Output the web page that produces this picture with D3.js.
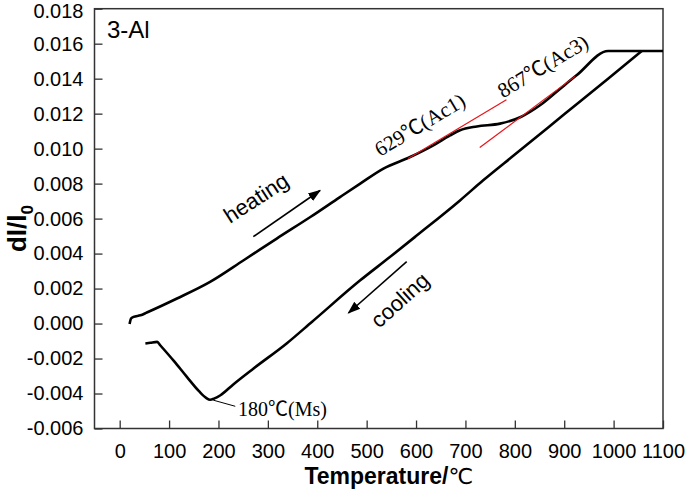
<!DOCTYPE html>
<html>
<head>
<meta charset="utf-8">
<script src="https://cdn.jsdelivr.net/npm/d3@7"></script>
<style>
  html, body { margin: 0; padding: 0; background: #fff; }
  svg { display: block; }
</style>
</head>
<body>
<svg id="chart" width="685" height="489"></svg>
<script>
// ---- data ----
const heatingT = [20, 23, 28, 42, 55, 116, 183, 251, 318, 386, 446, 487, 534, 588, 635, 669, 689, 723, 770, 812, 851, 892, 925, 989, 1100];
const heatingV = [-0.00002, 0.00029, 0.00038, 0.00047, 0.00063, 0.00143, 0.00238, 0.00362, 0.00486, 0.00609, 0.00723, 0.0080, 0.00886, 0.00952, 0.01019, 0.01076, 0.01105, 0.01127, 0.01143, 0.01181, 0.01248, 0.01343, 0.01419, 0.01558, 0.01558];

const coolingT = [52, 62, 76, 82, 110, 136, 160, 175, 183, 192, 204, 230, 271, 338, 389, 487, 547, 600, 689, 736, 800, 900, 990, 1057];
const coolingV = [-0.00114, -0.00110, -0.00105, -0.00124, -0.00215, -0.00305, -0.00385, -0.00425, -0.00436, -0.00428, -0.0041, -0.00348, -0.00257, -0.00114, 0.00009, 0.00247, 0.0038, 0.0050, 0.00704, 0.00819, 0.00966, 0.01196, 0.01403, 0.01558];

const ac1TangentT = [584, 783];
const ac1TangentV = [0.00943, 0.0128];
const ac3TangentT = [729, 922];
const ac3TangentV = [0.01006, 0.01413];

const xTicks = [0, 100, 200, 300, 400, 500, 600, 700, 800, 900, 1000, 1100];
const yTicks = [-0.006, -0.004, -0.002, 0.000, 0.002, 0.004, 0.006, 0.008, 0.010, 0.012, 0.014, 0.016, 0.018];

// ---- layout ----
const svg = d3.select("#chart");
const mLeft = 94.5, mRight = 663, mTop = 8.7, mBottom = 428.5;
const x = d3.scaleLinear().domain([-51, 1100]).range([mLeft, mRight]);
const y = d3.scaleLinear().domain([-0.006, 0.018]).range([mBottom, mTop]);

const sansFont = "Arial, 'Liberation Sans', sans-serif";
const serifFont = "'Times New Roman', 'Liberation Serif', serif";
const cjkFont = "'Noto Sans CJK SC', sans-serif";
const symFont = "'DejaVu Sans', sans-serif";

const f3 = d3.format(".3f");
const yFmt = d => f3(d).replace("\u2212", "-");

// axes
const xAxis = svg.append("g")
  .attr("transform", `translate(0,${mBottom})`)
  .call(d3.axisBottom(x).tickValues(xTicks).tickSizeInner(-8).tickSizeOuter(0).tickPadding(15).tickFormat(d3.format("d")));
const yAxis = svg.append("g")
  .attr("transform", `translate(${mLeft},0)`)
  .call(d3.axisLeft(y).tickValues(yTicks).tickSizeInner(-8).tickSizeOuter(0).tickPadding(11).tickFormat(yFmt));
[xAxis, yAxis].forEach(g => {
  g.select(".domain").remove();
  g.selectAll(".tick line").attr("stroke", "#333").attr("stroke-width", 1.3);
  g.selectAll(".tick text").attr("fill", "#000").style("font-family", sansFont).style("font-size", "20px");
});
yAxis.selectAll(".tick text").filter(d => d === 0.018).attr("dy", "0.42em");

// frame
svg.append("rect")
  .attr("x", mLeft).attr("y", mTop)
  .attr("width", mRight - mLeft).attr("height", mBottom - mTop)
  .attr("fill", "none").attr("stroke", "#333").attr("stroke-width", 1.5);

// curves
const line = d3.line().x(d => x(d[0])).y(d => y(d[1])).curve(d3.curveMonotoneX);
const heating = heatingT.map((t, i) => [t, heatingV[i]]);
const cooling = coolingT.map((t, i) => [t, coolingV[i]]);
svg.append("path").attr("d", line(heating)).attr("fill", "none").attr("stroke", "#000").attr("stroke-width", 2.6).attr("stroke-linejoin", "round");
svg.append("path").attr("d", line(cooling)).attr("fill", "none").attr("stroke", "#000").attr("stroke-width", 2.6).attr("stroke-linejoin", "round");

// tangent lines
const straight = d3.line().x(d => x(d[0])).y(d => y(d[1]));
[[ac1TangentT, ac1TangentV], [ac3TangentT, ac3TangentV]].forEach(([ts, vs]) => {
  svg.append("path").attr("d", straight(ts.map((t, i) => [t, vs[i]])))
    .attr("fill", "none").attr("stroke", "#e8141a").attr("stroke-width", 1.2);
});

// arrow marker
svg.append("defs").append("marker")
  .attr("id", "arrow").attr("viewBox", "0 0 10 10")
  .attr("refX", 9).attr("refY", 5)
  .attr("markerWidth", 13).attr("markerHeight", 13)
  .attr("markerUnits", "userSpaceOnUse")
  .attr("orient", "auto")
  .append("path").attr("d", "M0,1.5 L10,5 L0,8.5 Z").attr("fill", "#000");

function arrow(t1, v1, t2, v2) {
  svg.append("line")
    .attr("x1", x(t1)).attr("y1", y(v1)).attr("x2", x(t2)).attr("y2", y(v2))
    .attr("stroke", "#000").attr("stroke-width", 1.6)
    .attr("marker-end", "url(#arrow)");
}
arrow(x.invert(253.3), y.invert(236.7), x.invert(320), y.invert(190.5));
arrow(x.invert(406.7), y.invert(261.7), x.invert(348.5), y.invert(313));

// rotated labels
function rotText(parts, px, py, angle, size) {
  const t = svg.append("text")
    .attr("transform", `translate(${px},${py}) rotate(${angle})`)
    .style("font-size", size + "px")
    .attr("fill", "#000");
  parts.forEach(([txt, font]) => t.append("tspan").style("font-family", font).text(txt));
}
rotText([["heating", sansFont]], 230, 224, -33, 22);
rotText([["cooling", sansFont]], 379, 329, -42, 22);
rotText([["629", serifFont], ["\u2103", cjkFont], ["(Ac1)", serifFont]], 380, 157, -31, 21);
rotText([["867", serifFont], ["\u2103", cjkFont], ["(Ac3)", serifFont]], 503, 98.5, -31, 21);
rotText([["180", serifFont], ["\u2103", cjkFont], ["(Ms)", serifFont]], 238, 416, 0, 20);

// Ms leader line
svg.append("line")
  .attr("x1", x(189.5)).attr("y1", y(-0.00438))
  .attr("x2", x(234)).attr("y2", y(-0.00473))
  .attr("stroke", "#000").attr("stroke-width", 1);

// panel label
svg.append("text").attr("x", 107).attr("y", 38)
  .style("font-family", sansFont).style("font-size", "24px").attr("fill", "#000")
  .text("3-Al");

// axis titles
const xTitle = svg.append("text").attr("x", (mLeft + mRight) / 2 + 10).attr("y", 483.5)
  .attr("text-anchor", "middle")
  .attr("fill", "#000");
xTitle.append("tspan").style("font-family", sansFont).style("font-weight", "bold").style("font-size", "23px").text("Temperature/");
xTitle.append("tspan").style("font-family", symFont).style("font-weight", "normal").style("font-size", "22px").text("\u2103");

const yTitle = svg.append("text")
  .attr("transform", `translate(26,${(mTop + mBottom) / 2 + 10}) rotate(-90)`)
  .attr("text-anchor", "middle")
  .style("font-family", sansFont).style("font-size", "26px").style("font-weight", "bold")
  .attr("fill", "#000");
yTitle.append("tspan").text("dl/l");
yTitle.append("tspan").attr("dy", 7).style("font-size", "17px").text("0");
</script>
</body>
</html>
